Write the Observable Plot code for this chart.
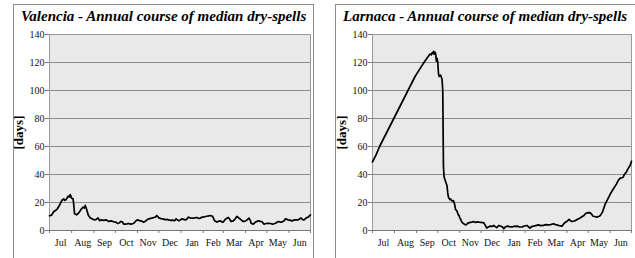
<!DOCTYPE html>
<html>
<head>
<meta charset="utf-8">
<script src="https://cdn.jsdelivr.net/npm/d3@7"></script>
<script src="https://cdn.jsdelivr.net/npm/@observablehq/plot@0.6"></script>
<style>
  html, body { margin: 0; padding: 0; background: #fff; }
  body { width: 635px; height: 258px; position: relative; overflow: hidden; font-family: 'Liberation Serif', 'Times New Roman', Times, serif; }
  .frame { position: absolute; border: 1px solid #8c8c8c; box-sizing: border-box; }
  .ttl { position: absolute; font-family: 'Liberation Serif', 'Times New Roman', Times, serif !important; font-weight: bold; font-style: italic; white-space: nowrap; line-height: 1; color: #000; }
  .panel { position: absolute; top: 0; }
  .panel svg, .panel svg text { font-family: 'Liberation Serif', 'Times New Roman', Times, serif !important; }
  .panel svg [aria-label="y-axis label"] text, .panel svg [aria-label="y-axis label"] { font-weight: bold; font-size: 13px; fill: #000; }
</style>
</head>
<body>
<div id="root"></div>
<script>
// ---- data ----
const monthLabels = ["Jul","Aug","Sep","Oct","Nov","Dec","Jan","Feb","Mar","Apr","May","Jun"];
const monthStarts = [0,31,62,92,123,153,184,215,243,274,304,335,365];
const yTicks = [0,20,40,60,80,100,120,140];

const valenciaDay = [0,3,6,9,11,14,16,18,20,21,23,25,26,28,29,31,33,34,35,38,41,44,47,49,50,52,54,57,60,63,65,68,70,72,76,79,83,86,90,93,95,97,100,102,104,107,110,114,118,121,123,126,128,131,134,137,140,143,146,148,150,153,156,158,162,165,169,172,175,177,181,183,185,190,192,194,197,200,203,206,209,211,213,215,218,220,223,225,228,230,231,234,236,239,241,243,246,248,250,252,254,257,260,262,264,266,268,271,274,276,279,281,282,285,288,292,295,297,300,303,306,309,312,316,320,323,325,328,330,334,337,339,342,344,348,350,352,354,356,358,360,362,363,365];
const valenciaVal = [10.5,11,13.6,14.5,15.5,18,20.2,22,22.6,21.5,22,23.5,24.5,24,25.7,23,22.6,18,12,11.2,12.6,15,16.7,16,17.9,15,11.2,9,8.3,7.5,7.9,9,7,7.6,7.2,7.6,6.5,6.9,6.2,6,5,5.2,6.5,6,4.5,4.5,5,4.5,5.2,7,7.6,7,6.9,6,6.5,7.9,8.5,8.8,9.3,9.5,10.7,9,8.5,8.3,7.8,7.9,7.2,7.4,7,8.3,6.9,7.6,8.3,7.6,8,9.5,9,8.8,9,9.3,8.6,8.8,9.5,9.5,10,10.2,10.5,10.7,10.2,8,6.9,6,6.5,6.9,6.2,6,8,8.8,9.3,8,6.4,6.9,8.5,10,9.3,8.5,7.6,6.4,6.8,7.4,8.8,7,5.2,4.5,6,6.9,6.5,6.4,4.5,5,5.2,5,4.5,5.2,6.4,6,6,7,8.3,7.6,7.2,6.9,7.4,7.6,7.6,8.5,8.8,7.8,7.6,8.5,9.3,9.5,10.2,11.2];

const larnacaDay = [0,5,10,15,20,25,30,35,40,45,50,55,60,65,70,74,78,81,83,84,85,86,87,88,89,90,91,92,93,94,96,97,98,99,100,101,103,105,106,107,109,110,112,114,115,116,117,119,121,122,123,124,125,126,128,131,133,135,138,140,142,145,148,150,153,157,158,159,161,163,166,169,171,173,175,177,178,181,183,185,187,190,193,197,200,204,207,211,214,218,220,222,224,227,230,234,237,241,244,248,251,255,258,260,263,267,269,272,274,277,279,281,284,286,289,292,295,298,300,302,305,307,309,311,313,316,318,320,322,324,326,328,330,333,335,338,341,344,346,349,351,353,355,358,360,363,365];
const larnacaVal = [49,54,60,65,70,75,80,85,90,95,100,105,110,114,118,121,124,126,125.5,127,126.5,128,126,127.5,126,121,123,120,112,110,111,109.5,108,100,45,38,35,32,27,23.8,22,22.6,21,21.4,20,18,15,14,11,10.7,9,8.3,7,6,5,4,4.5,5.5,5.8,6,6.4,5.8,6.2,6,5.8,5.5,4.5,3.6,1.7,2.5,3.1,3,3.6,2.8,2.1,3,3.6,3,2.6,1.2,2.5,3.1,2.8,2.6,3,3.1,2.5,2.6,3.2,3.6,2.5,1.7,2.8,3.1,3.5,4,3.5,3.6,4.2,4,4.2,4.8,4.2,4,3.5,3.1,4.5,6,6.5,7.9,7,6.4,6.8,7.1,8,8.8,9.8,10.7,12,12.6,12.8,12.6,11.5,10.2,10,9.5,10,10.2,11.5,13.1,16,19,21,23.8,26,28.6,31,33.3,35.5,37.4,37.5,38,40,42,44,46.4,49.5];

// ---- layout ----
const FONT = "'Liberation Serif', 'Times New Roman', Times, serif";
const root = document.getElementById("root");
const monthMids = monthStarts.slice(0, -1).map((d, i) => (d + monthStarts[i + 1]) / 2);

function makePanel(cfg) {
  const fr = document.createElement("div");
  fr.className = "frame";
  Object.assign(fr.style, {left: cfg.frameX + "px", top: "4px", width: cfg.frameW + "px", height: "300px"});
  root.appendChild(fr);

  const data = cfg.days.map((d, i) => ({day: d, value: cfg.vals[i]}));
  const chart = Plot.plot({
    width: cfg.svgW,
    height: 258,
    marginLeft: cfg.mLeft,
    marginRight: cfg.mRight,
    marginTop: 34,
    marginBottom: 28,
    style: {fontFamily: FONT, fontSize: "10px", color: "#111", background: "transparent", overflow: "visible"},
    x: {domain: [0, 365]},
    y: {domain: [0, 140]},
    marks: [
      Plot.frame({fill: "#e9e9e9", stroke: "none"}),
      Plot.gridY(yTicks, {stroke: "#8c8c8c", strokeOpacity: 1}),
      Plot.frame({stroke: "#9a9a9a"}),
      Plot.axisY(yTicks, {tickSize: 4, tickPadding: 1, stroke: "#777", label: "[days]", labelAnchor: "center", labelOffset: 36, labelArrow: "none"}),
      Plot.axisX(monthStarts, {tickSize: 3, stroke: "#777", tickFormat: () => "", label: null}),
      Plot.axisX(monthMids, {tickSize: 0, tickPadding: 8, tickFormat: (d, i) => monthLabels[i], label: null}),
      Plot.ruleY([0], {stroke: "#777"}),
      Plot.line(data, {x: "day", y: "value", stroke: "#000", strokeWidth: 1.7})
    ]
  });
  const wrap = document.createElement("div");
  wrap.className = "panel";
  wrap.style.left = cfg.svgX + "px";
  wrap.appendChild(chart);
  root.appendChild(wrap);

  // title
  const t = document.createElement("div");
  t.className = "ttl";
  t.textContent = cfg.title;
  const cv = document.createElement("canvas").getContext("2d");
  cv.font = "italic bold 16px 'Liberation Serif'";
  const w16 = cv.measureText(cfg.title).width;
  const fs = 16 * cfg.titleW / w16;
  t.style.fontSize = fs + "px";
  t.style.left = cfg.titleX + "px";
  t.style.top = (22 - 0.8375 * fs) + "px";
  root.appendChild(t);
}

makePanel({frameX: 13, frameW: 301, svgX: 0, svgW: 318, mLeft: 49, mRight: 8, days: valenciaDay, vals: valenciaVal,
  title: "Valencia - Annual course of median dry-spells", titleX: 21, titleW: 286});
makePanel({frameX: 335, frameW: 302, svgX: 322, svgW: 313, mLeft: 50, mRight: 4, days: larnacaDay, vals: larnacaVal,
  title: "Larnaca - Annual course of median dry-spells", titleX: 343, titleW: 285});
</script>
</body>
</html>
